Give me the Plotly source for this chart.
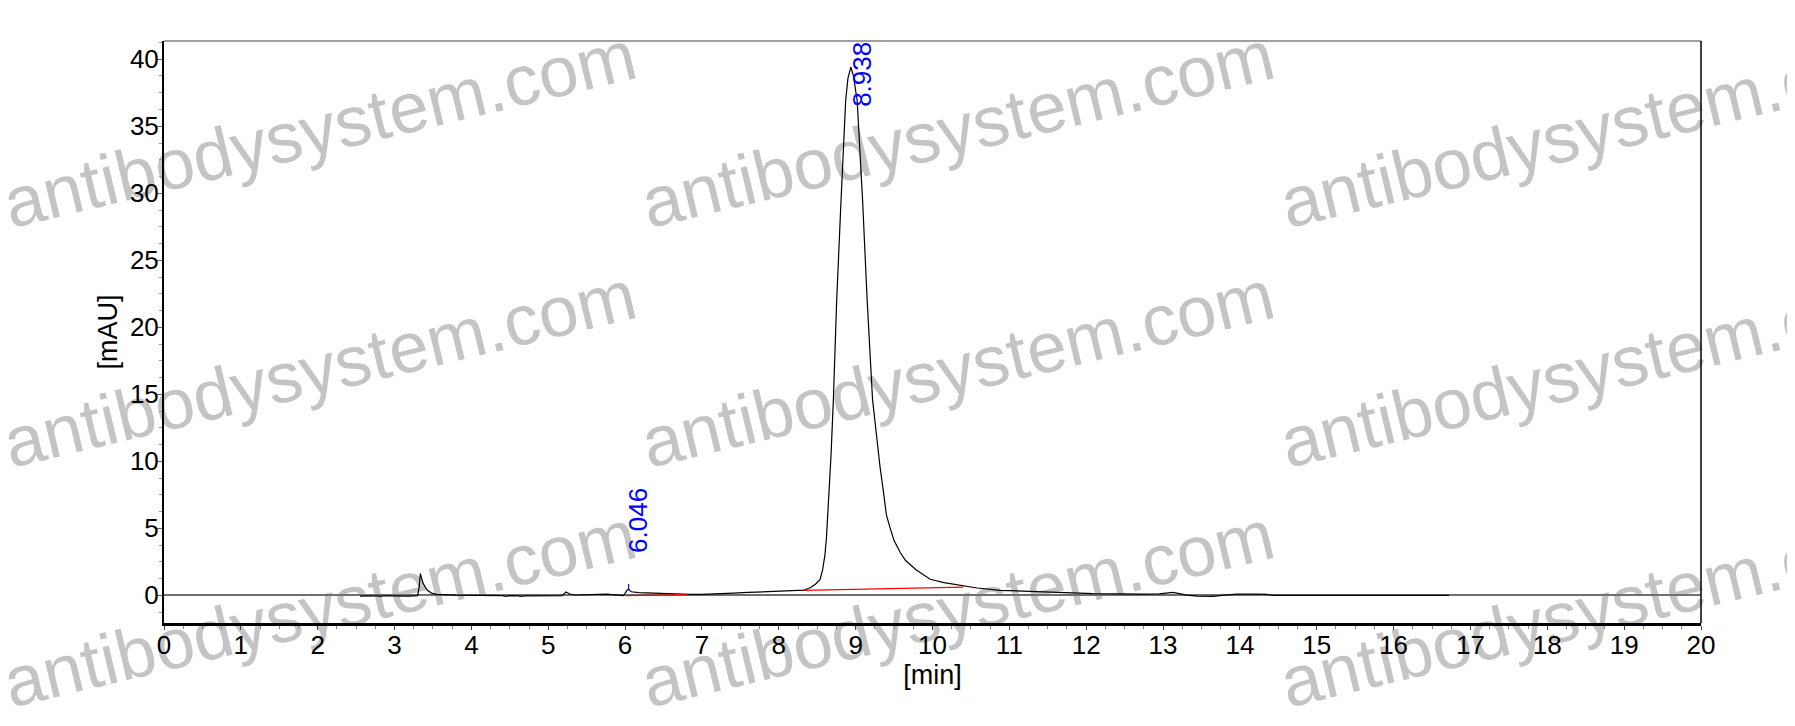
import plotly.graph_objects as go

# chromatogram: retention time [min] and signal [mAU]
time_min = [2.55, 2.62, 2.64, 2.70, 2.78, 2.80, 2.86, 2.95, 3.05, 3.18, 3.30, 3.32, 3.336, 3.35, 3.37,
            3.42, 3.48, 3.55, 3.63, 3.80, 4.11, 4.40, 4.45, 4.50, 4.62, 4.64, 4.70, 4.85, 4.87, 4.95,
            5.18, 5.23, 5.28, 5.35, 5.50, 5.76, 5.98, 6.03, 6.046, 6.08, 6.18, 6.30, 6.45, 6.63, 6.84,
            7.00, 7.20, 7.41, 7.60, 7.80, 8.00, 8.10, 8.25, 8.32, 8.41, 8.48, 8.536, 8.57, 8.60, 8.62,
            8.64, 8.68, 8.71, 8.753, 8.81, 8.87, 8.90, 8.938, 8.97, 9.00, 9.02, 9.09, 9.15, 9.22, 9.27,
            9.317, 9.36, 9.40, 9.45, 9.50, 9.58, 9.65, 9.79, 9.97, 10.15, 10.31, 10.58, 10.88, 11.10,
            11.53, 11.92, 12.09, 12.74, 12.95, 13.13, 13.20, 13.31, 13.45, 13.65, 13.80, 13.96, 14.20,
            14.35, 14.43, 15.00, 15.80, 16.39, 16.45, 16.50, 16.55, 16.60, 16.65, 16.72]
signal_mau = [-0.05, -0.03, -0.08, -0.04, -0.03, -0.08, -0.04, -0.04, -0.05, -0.05, -0.02, 0.6, 1.62, 1.3, 0.92,
              0.42, 0.17, 0.08, 0.05, 0.02, 0.0, -0.02, -0.08, -0.02, -0.04, -0.08, -0.03, -0.03, -0.07, -0.03,
              -0.02, 0.25, 0.1, 0.03, 0.04, 0.1, -0.02, 0.42, 0.45, 0.27, 0.2, 0.17, 0.15, 0.1, 0.07,
              0.07, 0.1, 0.17, 0.22, 0.28, 0.33, 0.35, 0.37, 0.38, 0.57, 0.85, 1.17, 1.9, 3.0, 4.3,
              6.3, 10.5, 14.6, 22.0, 29.5, 36.9, 38.6, 39.4, 38.8, 37.6, 36.9, 29.5, 22.0, 14.6, 11.8,
              9.6, 7.8, 6.0, 5.0, 4.1, 3.2, 2.6, 1.9, 1.2, 0.95, 0.8, 0.55, 0.38, 0.33,
              0.22, 0.16, 0.13, 0.1, 0.12, 0.22, 0.15, 0.02, -0.05, -0.07, 0.02, 0.1, 0.09,
              0.07, 0.0, 0.0, 0.0, 0.0, -0.05, 0.0, -0.05, 0.0, -0.05, 0.0]

# integration baselines (red) for the two labelled peaks
baseline1_x = [6.02, 6.80]
baseline1_y = [-0.02, 0.05]
baseline2_x = [8.32, 10.40]
baseline2_y = [0.37, 0.62]

# peak labels
peak_times = [6.046, 8.938]
peak_labels = ['6.046', '8.938']
peak_label_y = [5.6, 38.9]

x_ticks = list(range(0, 21))
y_ticks = [0, 5, 10, 15, 20, 25, 30, 35, 40]

FONT = 'Arial, Liberation Sans, sans-serif'

fig = go.Figure()

fig.add_trace(go.Scatter(x=time_min, y=signal_mau, mode='lines',
                         line=dict(color='black', width=1.2), showlegend=False, hoverinfo='skip'))
fig.add_trace(go.Scatter(x=baseline1_x, y=baseline1_y, mode='lines',
                         line=dict(color='red', width=1.2), showlegend=False))
fig.add_trace(go.Scatter(x=baseline2_x, y=baseline2_y, mode='lines',
                         line=dict(color='red', width=1.2), showlegend=False))
# small blue peak marker on the 6.046 peak
fig.add_trace(go.Scatter(x=[peak_times[0], peak_times[0]], y=[0.45, 0.85], mode='lines',
                         line=dict(color='blue', width=1.2), showlegend=False))

fig.add_annotation(x=peak_times[0], y=peak_label_y[0], text=peak_labels[0], textangle=-90,
                   showarrow=False, xshift=10, font=dict(family=FONT, size=26, color='blue'))
fig.add_annotation(x=peak_times[1], y=peak_label_y[1], text=peak_labels[1], textangle=-90,
                   showarrow=False, xshift=11, font=dict(family=FONT, size=26, color='blue'))

# frame: thin grey top edge, black right edge
fig.add_shape(type='line', xref='paper', yref='paper', x0=0, x1=1, y0=1, y1=1,
              line=dict(color='#808080', width=1.5))
fig.add_shape(type='line', xref='paper', yref='paper', x0=1, x1=1, y0=0, y1=1,
              line=dict(color='black', width=1.5))

# watermark, drawn under everything (centres in page pixels)
wm_x = [318, 956, 1595]
wm_y = [122, 362, 602]
for cx in wm_x:
    for cy in wm_y:
        px = (cx - 164) / 1537
        py = (623.3 - cy) / 582.6
        fig.add_shape(type='rect', xref='paper', yref='paper', layer='below',
                      x0=px - 0.005, x1=px + 0.005, y0=py - 0.005, y1=py + 0.005,
                      line=dict(width=0), fillcolor='rgba(0,0,0,0)',
                      label=dict(text='antibodysystem.com', textangle=-13.5, textposition='middle center',
                                 font=dict(family=FONT, size=71, color='#c4c4c4')))

fig.update_xaxes(range=[0, 20], tickvals=x_ticks, ticks='outside', ticklen=4, tickcolor='#444',
                 showline=True, linecolor='black', linewidth=2.5, mirror=False, showgrid=False,
                 zeroline=False, automargin=False, ticklabelstandoff=-7,
                 tickfont=dict(family=FONT, size=26, color='black'),
                 minor=dict(dtick=0.25, ticks='outside', ticklen=3, tickcolor='#888', showgrid=False),
                 title=dict(text='[min]', font=dict(family=FONT, size=27, color='black'), standoff=2))
fig.update_yaxes(range=[-2.06, 41.36], tickvals=y_ticks, ticks='outside', ticklen=5, tickcolor='#666',
                 showline=True, linecolor='black', linewidth=2, mirror=False, showgrid=False,
                 zeroline=True, zerolinecolor='#707070', zerolinewidth=1.5,
                 automargin=False, ticklabelstandoff=-7,
                 tickfont=dict(family=FONT, size=26, color='black'),
                 minor=dict(dtick=1.25, ticks='outside', ticklen=3, tickcolor='#999', showgrid=False),
                 title=dict(text='[mAU]', font=dict(family=FONT, size=27, color='black'), standoff=4))

# the page adds an 8 px body margin, so the margins are shifted to put the plot where it belongs
fig.update_layout(width=1795, height=726, margin=dict(l=156, r=102, t=33, b=111),
                  paper_bgcolor='white', plot_bgcolor='rgba(0,0,0,0)', showlegend=False)

fig.write_html('out.html')
